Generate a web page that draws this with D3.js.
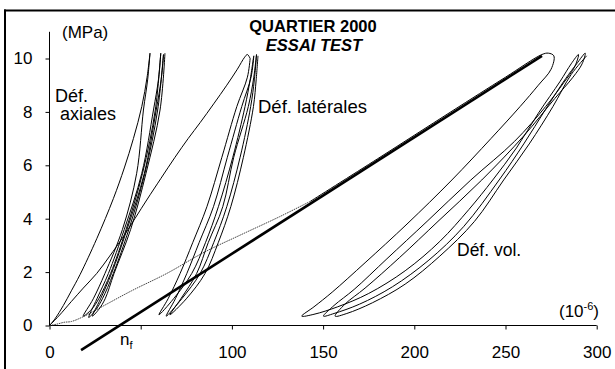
<!DOCTYPE html>
<html><head><meta charset="utf-8">
<script src="https://cdn.jsdelivr.net/npm/d3@7"></script>
<style>
html,body{margin:0;padding:0;background:#fff;}
svg{display:block;}
text{font-family:"Liberation Sans", Arial, sans-serif; fill:#000;}
</style></head>
<body>
<svg id="chart" width="615" height="369"></svg>
<script>
// ---- tick values / labels ----
const xTicks = [0, 50, 100, 150, 200, 250, 300];
const xTickLabels = ["0", "", "100", "150", "200", "250", "300"];
const yTicks = [0, 2, 4, 6, 8, 10];

// ---- axial strain (Déf. axiales) : [strain 1e-6, stress MPa] ----
const axialVirgin = [[0,0],[3,0.25],[7.6,0.75],[12,1.3],[16.7,1.9],[25.9,3.25],[35,4.75],[41,5.9],[46,7.0],[50.6,8.2],[53.5,9.3],[55.1,10.2]];
const axialCycles = [[55.1,10.2],[53.8,9.2],[51.5,8.07],[47.8,5.7],[40,3.6],[30.4,1.95],[24,1.0],[18.5,0.35],
  [23,0.6],[27,1.0],[33.5,1.95],[42,3.6],[51,5.7],[58,8.07],[61,10.2],
  [59.7,9.2],[57,8.07],[50.6,5.7],[41,3.6],[32.3,1.95],[26,1.0],[21.5,0.3],
  [25.5,0.6],[29,1.0],[35,1.95],[43.5,3.6],[52.3,5.7],[59.3,8.07],[62.5,10.15],
  [61.2,9.2],[58.5,8.07],[52,5.7],[42.5,3.6],[34,1.95],[28,1.0],[23.5,0.35],
  [27,0.6],[30.5,1.0],[35.4,1.95],[44.5,3.6],[52.9,5.7],[60.6,8.07],[63.3,10.2]];

// ---- lateral strain (Déf. latérales) ----
const lateralVirgin = [[0,0],[5,0.35],[12,0.9],[18.5,1.4],[25.9,1.95],[33,2.6],[40.5,3.33],[53.3,4.7],[61,5.5],[68.8,6.3],[76,7.0],[82.6,7.6],[90,8.3],[97.2,9.0],[103,9.6],[107,10.05],[108.5,10.15],[110,10.0]];
const lateralCycles = [[110,10.0],[108.5,9.3],[102.7,8.2],[94.5,6.3],[86.3,4.45],[78.5,3.1],[71.6,1.95],[65,1.0],[60,0.4],
  [68,1.0],[78,1.95],[85.5,3.1],[92.6,4.45],[100.5,6.3],[107.2,8.2],[110,9.2],[112,10.1],
  [110.5,9.3],[105.4,8.2],[97.5,6.3],[89.9,4.45],[82,3.1],[75.3,1.95],[69,1.0],[64,0.35],
  [72.5,1.0],[82.6,1.95],[90,3.1],[97.2,4.45],[104.5,6.3],[110.3,8.2],[112.3,9.2],[113.5,10.15],
  [112,9.3],[109,8.2],[101,6.3],[95,4.45],[87,3.1],[80.7,1.95],[72,1.0],[66,0.4],
  [75,1.0],[85.3,1.95],[92.5,3.1],[99.4,4.45],[106.3,6.3],[111.8,8.2],[113.3,9.2],[114.3,10.1]];

// ---- volumetric strain (Déf. vol.) ----
const volVirgin = [[0,0],[4,0.05],[8,0.12],[12,0.15],[18.5,0.33],[30,0.75],[45,1.3],[64.3,1.95],[85,2.75],[105,3.4],[126,4.07],[143,4.65]];
const volCycles = [[143,4.65],[180,6.25],[220,8.0],[250,9.3],[270,10.15],[273.5,10.2],[276.5,10.1],
  [275,9.6],[268,9.0],[258,8.2],[242,7.0],[220.6,5.45],[196,3.8],[173,2.35],[155,1.25],[145,0.7],[138.3,0.35],
  [145,0.42],[158,0.7],[175,1.2],[195,2.05],[214,3.15],[230,4.35],[243,5.45],[256,6.65],[268,7.95],[280,9.15],[286,9.8],[290,10.15],
  [288,9.7],[282,9.1],[272,8.2],[255,6.9],[231,5.45],[207,3.9],[185,2.5],[167,1.35],[156,0.75],[150.2,0.35],
  [156,0.45],[170,0.8],[188,1.45],[208,2.45],[227,3.7],[246.5,5.45],[260,6.8],[272,8.1],[283,9.25],[289,9.8],[293.7,10.2],
  [292,9.8],[287,9.3],[277,8.5],[260,7.1],[237,5.45],[213,3.9],[192,2.55],[173,1.4],[162,0.8],[156.6,0.35],
  [163,0.45],[177,0.85],[195,1.55],[214,2.6],[233,3.9],[249,5.45],[263,6.8],[276,8.2],[286,9.4],[294.5,10.1]];

// ---- linear fit of the volumetric curve (thick line), ends ----
const fitLine = [[17.3,-0.92],[270,10.1]];

// ---- scales ----
const svg = d3.select("#chart");
const x = d3.scaleLinear().domain([0,300]).range([49.5,596.7]);
const y = d3.scaleLinear().domain([0,11]).range([325.5,31.8]);

// frame (left and top edges of the original border)
svg.append("rect").attr("x",4).attr("y",9.5).attr("width",2).attr("height",360).attr("fill","#000");
svg.append("rect").attr("x",4).attr("y",9.5).attr("width",611).attr("height",2).attr("fill","#000");

// axes
const xAxis = d3.axisBottom(x).tickValues(xTicks).tickSize(4).tickFormat((d,i)=>xTickLabels[i]);
const gx = svg.append("g").attr("transform",`translate(0,${y(0)})`).call(xAxis);
gx.select(".domain").attr("stroke","#000").attr("d",`M${x(0)},0H${x(300)}`);
gx.selectAll(".tick line").attr("stroke","#000");
gx.selectAll(".tick text").attr("y",20).attr("dy","0.71em").style("font-size","17px")
  .style("font-family","Liberation Sans, Arial, sans-serif").attr("fill","#000");

const yAxis = d3.axisLeft(y).tickValues(yTicks).tickSize(4).tickFormat(d3.format("d"));
const gy = svg.append("g").attr("transform",`translate(${x(0)},0)`).call(yAxis);
gy.select(".domain").attr("stroke","#000").attr("d",`M0,${y(0)}V${y(11)}`);
gy.selectAll(".tick line").attr("stroke","#000");
gy.selectAll(".tick text").attr("x",-17).style("font-size","17px")
  .style("font-family","Liberation Sans, Arial, sans-serif").attr("fill","#000");

// curves
const line = d3.line().x(d=>x(d[0])).y(d=>y(d[1])).curve(d3.curveCatmullRom.alpha(0.5));
const straight = d3.line().x(d=>x(d[0])).y(d=>y(d[1]));

svg.append("path").datum(volVirgin).attr("d",line).attr("fill","none")
  .attr("stroke","#333").attr("stroke-width",0.9).attr("stroke-dasharray","1.6,0.8");
[axialVirgin, axialCycles, lateralVirgin, lateralCycles, volCycles].forEach(s=>{
  svg.append("path").datum(s).attr("d",line).attr("fill","none")
    .attr("stroke","#000").attr("stroke-width",1).attr("stroke-linejoin","round");
});
svg.append("path").datum(fitLine).attr("d",straight).attr("fill","none")
  .attr("stroke","#000").attr("stroke-width",2.6);

// texts
function t(txt,xp,yp,size,opts={}){
  const el = svg.append("text").attr("x",xp).attr("y",yp).style("font-size",size+"px").text(txt);
  if(opts.weight) el.style("font-weight",opts.weight);
  if(opts.style) el.style("font-style",opts.style);
  if(opts.anchor) el.attr("text-anchor",opts.anchor);
  return el;
}
t("QUARTIER 2000",313,32,16.5,{weight:"bold",anchor:"middle"});
t("ESSAI TEST",314,50.5,16.5,{weight:"bold",style:"italic",anchor:"middle"});
t("(MPa)",62,38,17);
t("Déf.",55,101.5,18);
t("axiales",60,120,18);
t("Déf. latérales",258,113,18.5);
t("Déf. vol.",457,256,17.5);

const u = svg.append("text").attr("x",559).attr("y",317).style("font-size","17px");
u.append("tspan").text("(10");
u.append("tspan").attr("dy",-7).style("font-size","11px").text("-6");
u.append("tspan").attr("dy",7).text(")");

const nf = svg.append("text").attr("x",120).attr("y",345).style("font-size","17px");
nf.append("tspan").text("n");
nf.append("tspan").attr("dy",4).style("font-size","11px").text("f");
</script>
</body></html>
